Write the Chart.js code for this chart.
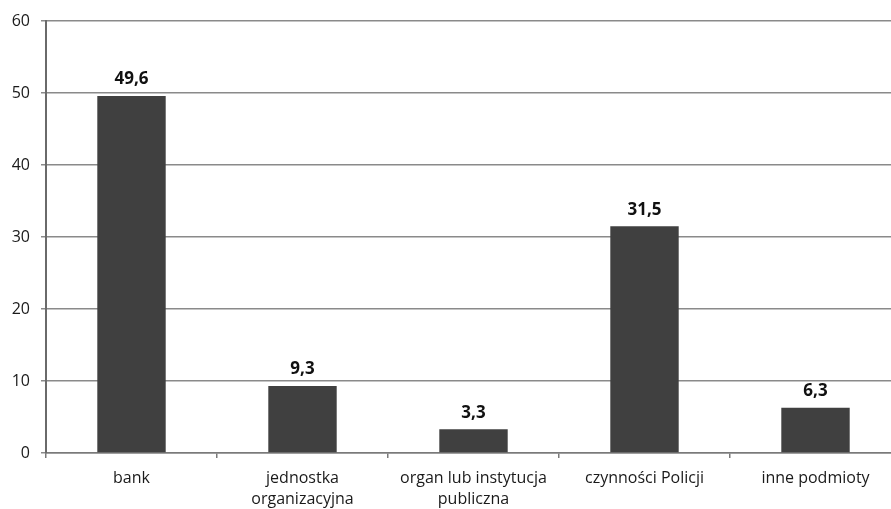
<!DOCTYPE html>
<html>
<head>
<meta charset="utf-8">
<script src="https://cdn.jsdelivr.net/npm/chart.js@4/dist/chart.umd.min.js"></script>
<style>
  html, body { margin: 0; padding: 0; background: #fff; overflow: hidden; }
  #wrap { width: 901px; height: 509px; }
</style>
</head>
<body>
<div id="wrap"><canvas id="c" width="901" height="509"></canvas></div>
<script>
// Categories and their shares (%)
const categories = [
  'bank',
  ['jednostka', 'organizacyjna'],
  ['organ lub instytucja', 'publiczna'],
  'czynności Policji',
  'inne podmioty'
];
const values = [49.6, 9.3, 3.3, 31.5, 6.3];
const yTicks = [0, 10, 20, 30, 40, 50, 60];

const FONT = '"Open Sans", "Noto Sans", sans-serif';

// Writes each bar's value above it, with a decimal comma
const valueLabels = {
  id: 'valueLabels',
  afterDatasetsDraw(chart) {
    const ctx = chart.ctx;
    const meta = chart.getDatasetMeta(0);
    ctx.save();
    ctx.font = 'bold 17px ' + FONT;
    ctx.fillStyle = '#111';
    ctx.textAlign = 'center';
    ctx.textBaseline = 'bottom';
    meta.data.forEach((bar, i) => {
      const txt = values[i].toFixed(1).replace('.', ',');
      ctx.fillText(txt, bar.x, bar.y - 8);
    });
    ctx.restore();
  }
};

new Chart(document.getElementById('c'), {
  type: 'bar',
  data: {
    labels: categories,
    datasets: [{
      data: values,
      backgroundColor: '#404040',
      borderWidth: 0,
      categoryPercentage: 1,
      barPercentage: 0.4
    }]
  },
  options: {
    responsive: false,
    animation: false,
    layout: { padding: { top: 21, right: 0, left: 0, bottom: 0 } },
    plugins: {
      legend: { display: false },
      tooltip: { enabled: false }
    },
    scales: {
      x: {
        afterFit(scale) { scale.height = 56; },
        grid: {
          offset: true,
          drawOnChartArea: false,
          drawTicks: true,
          tickLength: 5,
          color: '#7a7a7a',
          lineWidth: 1.5
        },
        border: { color: '#7a7a7a', width: 1.5 },
        ticks: {
          color: '#1a1a1a',
          font: { family: FONT, size: 16, lineHeight: 1.3 },
          padding: 10,
          maxRotation: 0,
          autoSkip: false
        }
      },
      y: {
        min: 0,
        max: 60,
        afterFit(scale) { scale.width = 46; },
        afterBuildTicks(scale) { scale.ticks = yTicks.map(v => ({ value: v })); },
        grid: {
          color: '#8a8a8a',
          lineWidth: 1.5,
          tickLength: 5,
          drawTicks: true
        },
        border: { color: '#6a6a6a', width: 2 },
        ticks: {
          color: '#1a1a1a',
          font: { family: FONT, size: 16 },
          padding: 11
        }
      }
    }
  },
  plugins: [valueLabels]
});
</script>
</body>
</html>
